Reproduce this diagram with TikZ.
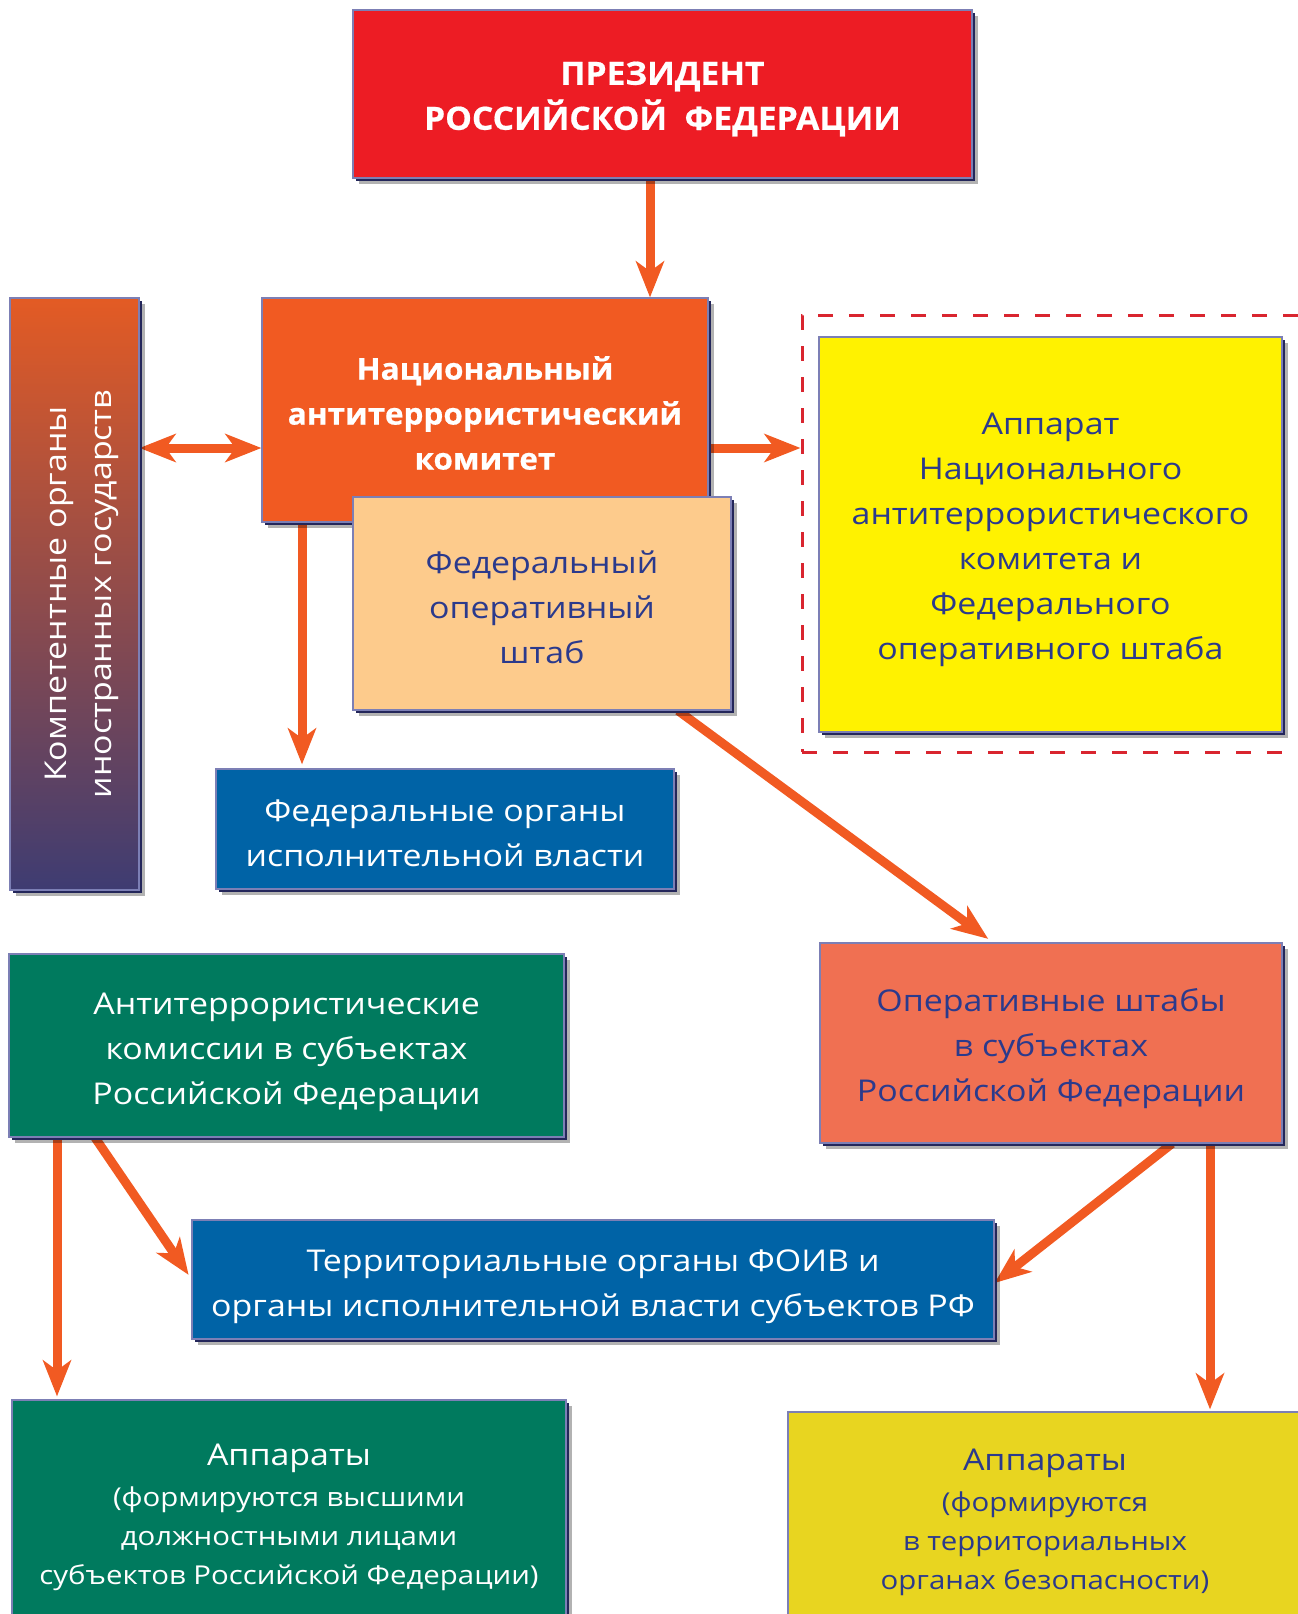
\documentclass[tikz,border=0pt]{standalone}
\usepackage{fontspec}
\setmainfont{Open Sans}
\newfontfamily\rf{Open Sans}[FakeStretch=1.13]
\newfontfamily\hbf{Open Sans}[FakeStretch=1.05, BoldFeatures={FakeBold=0.6}]
\usetikzlibrary{arrows.meta,shadows,backgrounds}
\definecolor{presred}{HTML}{ED1C24}
\definecolor{nakor}{HTML}{F15A22}
\definecolor{fosC}{HTML}{FDCB8C}
\definecolor{yelC}{HTML}{FFF200}
\definecolor{blueC}{HTML}{0063A6}
\definecolor{greenC}{HTML}{007A5E}
\definecolor{oshC}{HTML}{F07052}
\definecolor{yel2C}{HTML}{E8D520}
\definecolor{txtblue}{HTML}{2B3A8C}
\definecolor{arrC}{HTML}{F15A22}
\definecolor{dashC}{HTML}{D9252F}
\definecolor{edgeC}{HTML}{23265A}
\definecolor{lineC}{HTML}{7C7FB5}
\definecolor{gradTop}{HTML}{E35B24}
\definecolor{gradMid}{HTML}{A6514F}
\definecolor{gradBot}{HTML}{3E3C72}
\begin{document}
\begin{tikzpicture}[x=1pt,y=-1pt,
  box/.style={draw=lineC, line width=1.2pt, inner sep=0pt,
    drop shadow={shadow xshift=6pt, shadow yshift=-6pt, opacity=0.3, fill=black},
    drop shadow={shadow xshift=2.5pt, shadow yshift=-2.5pt, opacity=1, fill=edgeC}},
  txt/.style={align=center, inner sep=0pt, font=\rf\fontsize{30}{45}\selectfont},
  wtext/.style={txt, text=white},
  btext/.style={txt, text=txtblue},
  tipS/.tip={Stealth[length=36pt,width=28pt,inset=10pt]},
  arr/.style={draw=arrC, line width=9pt, -tipS},
  darr/.style={draw=arrC, line width=9pt, tipS-tipS}]
\useasboundingbox (0,0) rectangle (1298,1614);
\clip (0,0) rectangle (1298,1614);

% dashed frame
\node[draw=dashC, line width=3pt, dash pattern=on 15pt off 16pt, minimum width=510pt, minimum height=437pt, inner sep=0pt] (dash) at (1057,533.5) {};

% boxes
\node[box, fill=presred, minimum width=619pt, minimum height=168pt] (pres) at (662.5,94) {};
\node[wtext, font=\hbf\fontsize{32}{45}\selectfont\bfseries, yshift=-5pt] (presT) at (pres.center) {ПРЕЗИДЕНТ\\РОССИЙСКОЙ\ \ ФЕДЕРАЦИИ};

\node[box, top color=gradTop, middle color=gradMid, bottom color=gradBot, minimum width=129pt, minimum height=592pt] (kom) at (74.5,594) {};
\node[wtext, rotate=90, yshift=-7pt] (komT) at (kom.center) {Компетентные органы\\иностранных государств};

\node[box, fill=nakor, minimum width=446pt, minimum height=224pt] (nak) at (485,410) {};
\node[wtext, font=\hbf\fontsize{30}{45}\selectfont\bfseries, yshift=-3pt] (nakT) at (nak.center) {Национальный\\антитеррористический\\комитет};

\node[box, fill=fosC, minimum width=378pt, minimum height=213pt] (fos) at (542,603.5) {};
\node[btext, yshift=-4pt] (fosT) at (fos.center) {Федеральный\\оперативный\\штаб};

\node[box, fill=yelC, minimum width=463pt, minimum height=395pt] (app) at (1050.5,534.5) {};
\node[btext, yshift=-5pt] (appT) at (app.center) {Аппарат\\Национального\\антитеррористического\\комитета и\\Федерального\\оперативного штаба};

\node[box, fill=blueC, minimum width=458pt, minimum height=120pt] (foiv) at (445,829) {};
\node[wtext, yshift=-4pt] (foivT) at (foiv.center) {Федеральные органы\\исполнительной власти};

\node[box, fill=greenC, minimum width=555pt, minimum height=183pt] (atk) at (286.5,1045.5) {};
\node[wtext, yshift=-7pt] (atkT) at (atk.center) {Антитеррористические\\комиссии в субъектах\\Российской Федерации};

\node[box, fill=oshC, minimum width=462pt, minimum height=200pt] (osh) at (1051,1043) {};
\node[btext, yshift=-6pt] (oshT) at (osh.center) {Оперативные штабы\\в субъектах\\Российской Федерации};

\node[box, fill=blueC, minimum width=802pt, minimum height=119pt] (terr) at (593,1279.5) {};
\node[wtext, yshift=-7pt] (terrT) at (terr.center) {Территориальные органы ФОИВ и\\органы исполнительной власти субъектов РФ};

\node[box, fill=greenC, minimum width=554pt, minimum height=226pt] (appg) at (289,1513) {};
\node[wtext, yshift=-4pt] (appgT) at (appg.center)
  {Аппараты\\[-4pt]{\fontsize{26}{38}\selectfont (формируются высшими}\\[-6pt]{\fontsize{26}{38}\selectfont должностными лицами}\\[-6pt]{\fontsize{26}{38}\selectfont субъектов Российской Федерации)}};

\node[box, fill=yel2C, minimum width=514pt, minimum height=215pt] (appy) at (1045,1519.5) {};
\node[btext, yshift=-3pt] (appyT) at (appy.center)
  {Аппараты\\[-4pt]{\fontsize{26}{38}\selectfont (формируются}\\[-6pt]{\fontsize{26}{38}\selectfont в территориальных}\\[-6pt]{\fontsize{26}{38}\selectfont органах безопасности)}};

% connectors
\begin{pgfonlayer}{background}
\draw[arr] (pres.south -| 650,0) -- (nak.north -| 650,0);
\draw[darr] (kom.east |- 0,448) -- (nak.west |- 0,448);
\draw[arr] (nak.east |- 0,448) -- (dash.west |- 0,448);
\draw[arr, shorten >=4pt] (nak.south -| 302,0) -- (foiv.north -| 302,0);
\draw[arr, shorten >=6pt] (fos.south -| 678,0) -- (osh.north -| 993,0);
\draw[arr, shorten >=3pt] (atk.south -| 57,0) -- (appg.north -| 57,0);
\draw[arr, shorten >=5pt] (atk.south -| 95,0) -- (terr.west |- 0,1279);
\draw[arr] (osh.south -| 1172,0) -- (terr.east |- 0,1283);
\draw[arr, shorten >=2pt] (osh.south -| 1210,0) -- (appy.north -| 1210,0);
\end{pgfonlayer}
\end{tikzpicture}
\end{document}
